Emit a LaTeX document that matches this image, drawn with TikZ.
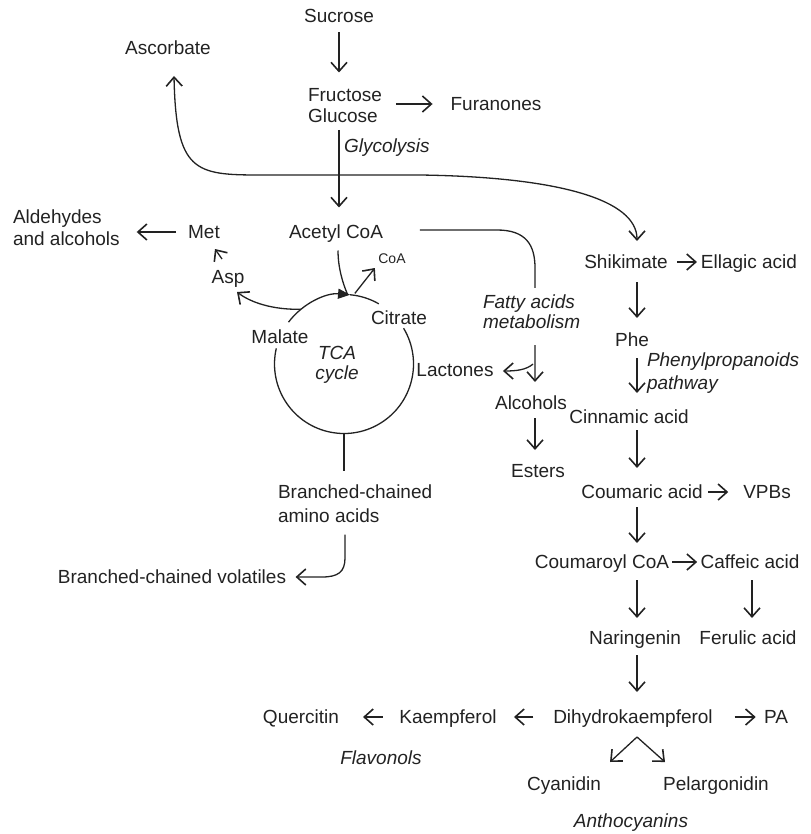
\documentclass[tikz,border=0pt]{standalone}
\usepackage{fontspec}
\setmainfont{Liberation Sans}
\usetikzlibrary{arrows.meta,calc}
\definecolor{ink}{HTML}{222222}
\newcommand{\twol}[3]{{\def\arraystretch{#1}\begin{tabular}[t]{@{}l@{}}#2\\#3\end{tabular}}}
\newcommand{\twoc}[3]{{\def\arraystretch{#1}\begin{tabular}[t]{@{}c@{}}#2\\#3\end{tabular}}}
\tikzset{
  lbl/.style={inner sep=0pt, outer sep=0pt, font=\fontsize{19}{22}\selectfont, text=ink},
  ital/.style={lbl, font=\fontsize{19}{22}\selectfont\itshape},
  barb/.tip={Straight Barb[length=9pt,width=16pt,line width=1.6pt]},
  arr/.style={-barb, line width=1.3pt, draw=ink},
  darr/.style={barb-barb, line width=1.3pt, draw=ink},
  ln/.style={line width=1.3pt, draw=ink},
}
\begin{document}
\begin{tikzpicture}[x=1pt,y=-1pt]
\useasboundingbox (0,0) rectangle (810,834);
% nodes
\node[lbl,anchor=base] (suc) at (339,22.5) {Sucrose};
\node[lbl,anchor=base] (asc) at (168,55) {Ascorbate};
\node[lbl,anchor=base west] (fg) at (308,101.5) {\twol{0.955}{Fructose}{Glucose}};
\node[lbl,anchor=base] (fur) at (496,110.5) {Furanones};
\node[ital,anchor=base west] (gly) at (344,152.5) {Glycolysis};
\node[lbl,anchor=base] (acc) at (336,238.5) {Acetyl CoA};
\node[lbl,anchor=base] (met) at (204,238.5) {Met};
\node[lbl,anchor=base west] (ald) at (13,223.5) {\twol{1}{Aldehydes}{and alcohols}};
\node[lbl,anchor=base] (asp) at (228,283.5) {Asp};
\node[lbl,anchor=base,font=\fontsize{14}{16}\selectfont] (coa) at (392,263) {CoA};
\node[lbl,anchor=base] (cit) at (399,324.5) {Citrate};
\node[lbl,anchor=base] (mal) at (280,343) {Malate};
\node[ital,anchor=base] (tca) at (337,359.5) {\twoc{0.91}{TCA}{cycle}};
\node[circle,minimum size=139pt,inner sep=0pt,outer sep=0pt] (cyc) at (344,364) {};
\node[lbl,anchor=base west] (bca) at (278,498.5) {\twol{1.09}{Branched-chained}{amino acids}};
\node[lbl,anchor=base] (bcv) at (172,583.5) {Branched-chained volatiles};
\node[ital,anchor=base west] (fam) at (483,308.5) {\twol{0.91}{Fatty acids}{metabolism}};
\node[lbl,anchor=base] (lac) at (455,376.5) {Lactones};
\node[lbl,anchor=base] (alc) at (531,409.5) {Alcohols};
\node[lbl,anchor=base] (est) at (538,477.5) {Esters};
\node[lbl,anchor=base] (shi) at (626,268.5) {Shikimate};
\node[lbl,anchor=base] (ell) at (749,268.5) {Ellagic acid};
\node[lbl,anchor=base] (phe) at (632,346.5) {Phe};
\node[ital,anchor=base west] (ppp) at (647,366.5) {\twol{1.045}{Phenylpropanoids}{pathway}};
\node[lbl,anchor=base] (cin) at (629,423.5) {Cinnamic acid};
\node[lbl,anchor=base] (cou) at (642,498.5) {Coumaric acid};
\node[lbl,anchor=base] (vpb) at (767,498.5) {VPBs};
\node[lbl,anchor=base] (cca) at (602,568.5) {Coumaroyl CoA};
\node[lbl,anchor=base] (caf) at (750,568.5) {Caffeic acid};
\node[lbl,anchor=base] (nar) at (635,644.5) {Naringenin};
\node[lbl,anchor=base] (fer) at (748,644.5) {Ferulic acid};
\node[lbl,anchor=base] (dhk) at (633,723.5) {Dihydrokaempferol};
\node[lbl,anchor=base] (pa) at (776,723.5) {PA};
\node[lbl,anchor=base] (kae) at (448,723.5) {Kaempferol};
\node[lbl,anchor=base] (que) at (301,723.5) {Quercitin};
\node[ital,anchor=base] (fla) at (381,764.5) {Flavonols};
\node[lbl,anchor=base] (cya) at (564,790.5) {Cyanidin};
\node[lbl,anchor=base] (pel) at (716,790.5) {Pelargonidin};
\node[ital,anchor=base] (ant) at (631,827) {Anthocyanins};

% TCA circle
\draw[ln,-{Triangle[length=12pt,width=10pt]}] (cyc.143) arc[start angle=143,end angle=85,radius=69.5pt];
\draw[ln] (cyc.85) arc[start angle=85,end angle=60,radius=69.5pt];
\draw[ln] (cyc.31) arc[start angle=31,end angle=-193,radius=69.5pt];

% top
\draw[arr] ($(suc.base)+(0,10)$) -- ($(suc.base |- fg.base)+(0,-29)$);
\draw[arr] ($(fg.east |- fur.base)+(14,-6.5)$) -- ($(fur.base west)+(-18,-6.5)$);
\draw[arr] ($(fg.south -| suc.base)+(0,1)$) -- ($(acc.base -| suc.base)+(0,-31)$);
\draw[darr] ($(asc.base)+(6,21)$) .. controls (176,172) and (195,175) .. (260,175)
  -- (420,175) .. controls (560,177) and (637,200) .. ($(shi.base)+(11,-27.5)$);

% left side
\draw[arr] ($(met.base west)+(-12,-6.5)$) -- ($(ald.east |- met.base)+(17,-6.5)$);
\draw[arr] ($(asp.base)+(-6,-24.5)$) -- ($(met.base)+(11,10.5)$);
\draw[arr] (cyc.128) .. controls (272,310) and (250,302) .. ($(asp.base)+(9,8.5)$);
\draw[ln] ($(acc.base)+(2,12)$) .. controls (338,268) and (343,284) .. (cyc.87);
\draw[arr] ($(cyc.81)+(0,-2)$) -- ($(coa.base west)+(-3.5,5)$);
\draw[ln] (cyc.south) -- ($(cyc.south |- bca.north)+(0,-10.5)$);
\draw[arr] ($(cyc.south |- bca.south)+(1,5)$) -- (345,558) .. controls (345,572) and (338,577) .. (322,577)
  -- ($(bcv.base east)+(9.5,-6.5)$);

% fatty acids
\draw[ln] ($(acc.base east)+(37,-8.5)$) -- (497,230) .. controls (526,230) and (535,245) .. (535,268)
  -- ($(fam.north)+(3.5,-6.5)$);
\draw[arr] ($(fam.south)+(3.5,10.5)$) -- ($(alc.base)+(4,-27.5)$);
\draw[arr] ($(fam.south)+(1.5,29.5)$) .. controls (526,370) and (516,371) .. ($(lac.base east)+(9.4,-5.5)$);
\draw[arr] ($(alc.base)+(4,8.5)$) -- ($(est.base)+(-3,-27.5)$);

% phenylpropanoids
\draw[arr] ($(shi.base east)+(9.3,-6.5)$) -- ($(ell.base west)+(-4,-6.5)$);
\draw[arr] ($(shi.base)+(11,13.5)$) -- ($(phe.base)+(5,-28.5)$);
\draw[arr] ($(phe.base)+(5,11.5)$) -- ($(cin.base)+(8,-30.5)$);
\draw[arr] ($(cin.base)+(8,6.5)$) -- ($(cou.base)+(-5,-30.5)$);
\draw[arr] ($(cou.base east)+(5.3,-6.5)$) -- ($(vpb.base west)+(-15,-6.5)$);
\draw[arr] ($(cou.base)+(-5,8.5)$) -- ($(cca.base)+(35,-25.5)$);
\draw[arr] ($(cca.base east)+(3,-6.5)$) -- ($(caf.base west)+(-3.4,-6.5)$);
\draw[arr] ($(cca.base)+(35,11.5)$) -- ($(nar.base)+(2,-26.5)$);
\draw[arr] ($(caf.base)+(2,11.5)$) -- ($(fer.base)+(4,-26.5)$);
\draw[arr] ($(nar.base)+(2,10.5)$) -- ($(dhk.base)+(4,-31.5)$);
\draw[arr] ($(dhk.base west)+(-20,-6.5)$) -- ($(kae.base east)+(17.4,-6.5)$);
\draw[arr] ($(kae.base west)+(-16.5,-6.5)$) -- ($(que.base east)+(24,-6.5)$);
\draw[arr] ($(dhk.base east)+(22,-6.5)$) -- ($(pa.base west)+(-8.3,-6.5)$);
\draw[arr] ($(dhk.base)+(4,13.5)$) -- ($(cya.base)+(46,-28.5)$);
\draw[arr] ($(dhk.base)+(4,13.5)$) -- ($(pel.base)+(-51,-28.5)$);
\end{tikzpicture}
\end{document}
